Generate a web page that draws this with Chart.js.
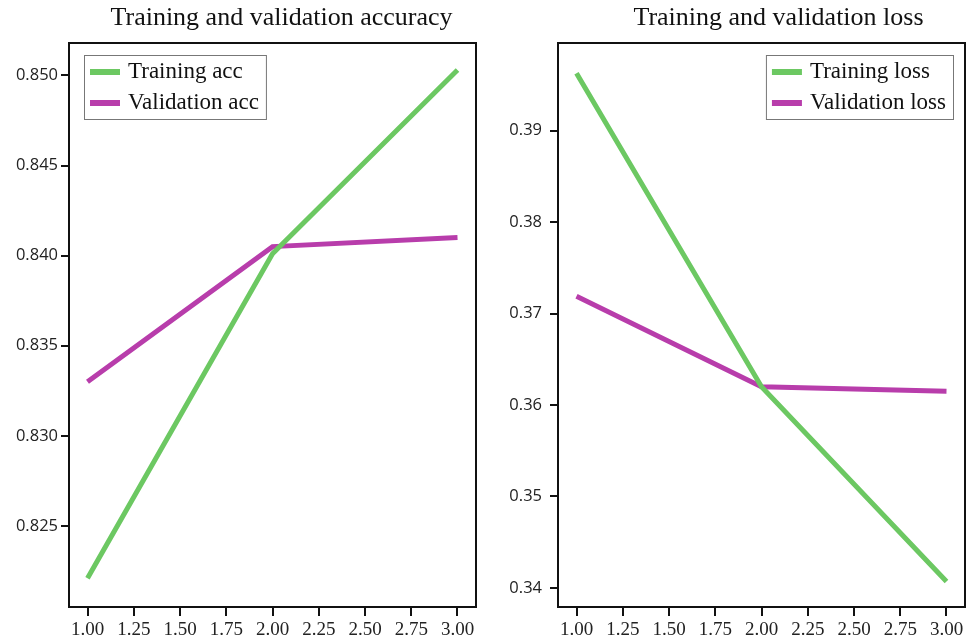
<!DOCTYPE html>
<html>
<head>
<meta charset="utf-8">
<script src="https://cdn.jsdelivr.net/npm/chart.js@4.4.1/dist/chart.umd.min.js"></script>
<style>
    body { margin: 0; background: #fff; }
    .panel { position: absolute; top: 0; height: 641px; }
    #accPanel { left: 0; width: 480px; }
    #lossPanel { left: 480px; width: 487px; }
</style>
</head>
<body>
<div class="panel" id="accPanel"><canvas id="accChart"></canvas></div>
<div class="panel" id="lossPanel"><canvas id="lossChart"></canvas></div>
<script>
const epochs = [1, 2, 3];
const trainAcc = [0.8221, 0.8401, 0.8503];
const valAcc = [0.8330, 0.8405, 0.8410];
const trainLoss = [0.3963, 0.3620, 0.3407];
const valLoss = [0.3719, 0.3620, 0.3615];

const epochTicks = [1.00, 1.25, 1.50, 1.75, 2.00, 2.25, 2.50, 2.75, 3.00];
const accTicks = [0.825, 0.830, 0.835, 0.840, 0.845, 0.850];
const lossTicks = [0.34, 0.35, 0.36, 0.37, 0.38, 0.39];

const GREEN = '#6cc862';
const MAGENTA = '#b83dab';

function points(ys) {
    return epochs.map((e, i) => ({ x: e, y: ys[i] }));
}

// frame around the plot area, title and boxed legend inside
const framePlugin = {
    id: 'frame',
    afterDraw(chart, args, opts) {
        const ctx = chart.ctx;
        const a = chart.chartArea;
        ctx.save();
        ctx.strokeStyle = '#111';
        ctx.lineWidth = 2;
        ctx.strokeRect(a.left, a.top, a.right - a.left, a.bottom - a.top);

        // title
        ctx.fillStyle = '#111';
        ctx.font = '26px "Liberation Serif"';
        ctx.textAlign = 'center';
        ctx.textBaseline = 'middle';
        ctx.fillText(opts.title, (a.left + a.right) / 2 + opts.titleShift, 18);

        // legend
        const ds = chart.data.datasets;
        ctx.font = '23px "Liberation Serif"';
        const textW = Math.max(...ds.map(d => ctx.measureText(d.label).width));
        const w = 44 + textW + 7;
        const h = 64;
        const x = opts.legendAlign === 'left' ? a.left + 15 : a.right - 12 - w;
        const y = a.top + 12;
        ctx.fillStyle = '#fff';
        ctx.fillRect(x, y, w, h);
        ctx.strokeStyle = '#777';
        ctx.lineWidth = 1;
        ctx.strokeRect(x + 0.5, y + 0.5, w, h);
        ctx.textAlign = 'left';
        ds.forEach((d, i) => {
            const cy = y + 17 + i * 31;
            ctx.fillStyle = d.borderColor;
            ctx.fillRect(x + 6, cy - 3, 30, 6);
            ctx.fillStyle = '#111';
            ctx.fillText(d.label, x + 44, cy);
        });
        ctx.restore();
    }
};

function makeChart(id, series, labels, yTicks, yMin, yMax, yDigits, yAxisWidth, yPad, padRight, title, titleShift, legendAlign) {
    const ctx = document.getElementById(id).getContext('2d');
    return new Chart(ctx, {
        type: 'line',
        data: {
            datasets: [{
                label: labels[0],
                data: points(series[0]),
                borderColor: GREEN,
                borderWidth: 5,
                pointRadius: 0,
                fill: false
            }, {
                label: labels[1],
                data: points(series[1]),
                borderColor: MAGENTA,
                borderWidth: 5,
                pointRadius: 0,
                fill: false
            }]
        },
        options: {
            responsive: true,
            maintainAspectRatio: false,
            animation: false,
            layout: { padding: { top: 43, right: padRight, left: 0, bottom: 0 } },
            scales: {
                x: {
                    type: 'linear',
                    min: 0.9,
                    max: 3.1,
                    afterBuildTicks: scale => { scale.ticks = epochTicks.map(v => ({ value: v })); },
                    afterFit: scale => { scale.height = 34; },
                    grid: { drawOnChartArea: false, drawTicks: true, tickLength: 9, color: '#111', lineWidth: 2 },
                    border: { display: false },
                    ticks: {
                        color: '#222',
                        padding: 3,
                        maxRotation: 0,
                        autoSkip: false,
                        font: { family: '"Liberation Serif"', size: 19 },
                        callback: v => Number(v).toFixed(2)
                    }
                },
                y: {
                    type: 'linear',
                    min: yMin,
                    max: yMax,
                    afterBuildTicks: scale => { scale.ticks = yTicks.map(v => ({ value: v })); },
                    afterFit: scale => { scale.width = yAxisWidth; },
                    grid: { drawOnChartArea: false, drawTicks: true, tickLength: 8, color: '#111', lineWidth: 2 },
                    border: { display: false },
                    ticks: {
                        color: '#222',
                        padding: yPad,
                        autoSkip: false,
                        font: { family: '"Open Sans"', size: 16.5, weight: '500' },
                        callback: v => Number(v).toFixed(yDigits)
                    }
                }
            },
            plugins: {
                legend: { display: false },
                tooltip: { enabled: false },
                frame: { title: title, titleShift: titleShift, legendAlign: legendAlign }
            }
        },
        plugins: [framePlugin]
    });
}

makeChart('accChart', [trainAcc, valAcc], ['Training acc', 'Validation acc'],
    accTicks, 0.8205, 0.8518, 3, 69, 3, 4, 'Training and validation accuracy', 9, 'left');
makeChart('lossChart', [trainLoss, valLoss], ['Training loss', 'Validation loss'],
    lossTicks, 0.3379, 0.3996, 2, 78, 8, 2, 'Training and validation loss', 17, 'right');
</script>
</body>
</html>
